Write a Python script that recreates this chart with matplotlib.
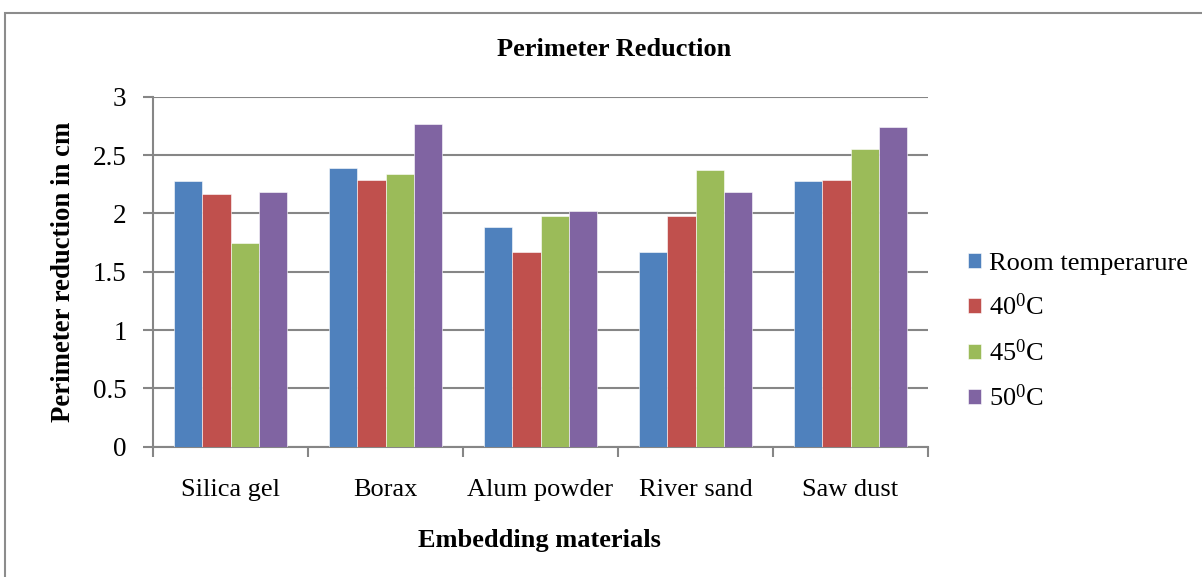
import matplotlib
matplotlib.use("Agg")
import matplotlib.pyplot as plt
from matplotlib.patches import Rectangle
import numpy as np

plt.rcParams['font.family'] = ['Liberation Serif', 'DejaVu Serif']
plt.rcParams['mathtext.fontset'] = 'custom'
plt.rcParams['mathtext.rm'] = 'Liberation Serif'
plt.rcParams['mathtext.it'] = 'Liberation Serif:italic'
plt.rcParams['mathtext.bf'] = 'Liberation Serif:bold'

materials = ["Silica gel", "Borax", "Alum powder", "River sand", "Saw dust"]
series_names = ["Room temperarure", "40$^0$C", "45$^0$C", "50$^0$C"]
room_temp = [2.28, 2.39, 1.88, 1.67, 2.28]
temp_40 = [2.17, 2.29, 1.67, 1.98, 2.29]
temp_45 = [1.75, 2.34, 1.98, 2.37, 2.55]
temp_50 = [2.18, 2.77, 2.02, 2.18, 2.74]
y_ticks = [0, 0.5, 1, 1.5, 2, 2.5, 3]
y_tick_labels = ["0", "0.5", "1", "1.5", "2", "2.5", "3"]

colors = ["#4F81BD", "#C0504D", "#9BBB59", "#8064A2"]
series = [room_temp, temp_40, temp_45, temp_50]

W, H = 1202, 577
fig = plt.figure(figsize=(W / 100, H / 100), dpi=100)
ax = fig.add_axes([153 / W, 1 - 446.7 / H, (928 - 153) / W, (446.7 - 96.7) / H])

n = len(series)
bar_w = 1 / (n + 1.5)
centers = np.arange(len(materials)) + 0.5
for k, (vals, col, name) in enumerate(zip(series, colors, series_names)):
    ax.bar(centers + (k - (n - 1) / 2) * bar_w, vals, width=bar_w, color=col,
           edgecolor="white", linewidth=0.4, label=name, zorder=3)

grid_col = "#868686"
ax.set_xlim(0, len(materials))
ax.set_ylim(0, 3)
ax.set_yticks(y_ticks)
ax.set_yticklabels(y_tick_labels)
ax.yaxis.grid(True, color=grid_col, linewidth=1.5, zorder=0)
ax.set_xticks(np.arange(len(materials) + 1))
ax.set_xticklabels([])
ax.set_xticks(centers, minor=True)
ax.set_xticklabels(materials, minor=True)
ax.tick_params(axis="x", which="minor", length=0, pad=23, labelsize=19)
ax.tick_params(axis="x", which="major", length=7, width=1.5, color=grid_col, direction="out")
ax.tick_params(axis="y", length=7, width=1.5, color=grid_col, pad=12, labelsize=19.5)
for s in ["top", "right"]:
    ax.spines[s].set_visible(False)
for s in ["left", "bottom"]:
    ax.spines[s].set_color(grid_col)
    ax.spines[s].set_linewidth(1.5)

fig.text(614 / W, 1 - 50 / H, "Perimeter Reduction", ha="center", va="center",
         fontsize=19, fontweight="bold")
fig.text(539 / W, 1 - 540 / H, "Embedding materials", ha="center", va="center",
         fontsize=19, fontweight="bold")
fig.text(63.5 / W, 1 - 272 / H, "Perimeter reduction in cm", ha="center", va="center",
         rotation=90, fontsize=19.3, fontweight="bold")

leg = ax.legend(loc="center left", bbox_to_anchor=(957 / W, 1 - 332 / H),
                bbox_transform=fig.transFigure, frameon=False, fontsize=19,
                handlelength=0.5, handleheight=0.5, handletextpad=0.3,
                labelspacing=0.72, borderaxespad=0)

fig.patches.append(Rectangle((5 / W, -0.1), 2, 1.1 - 13 / H, transform=fig.transFigure,
                             fill=False, edgecolor="#8c8c8c", linewidth=1.5))

fig.savefig("out.png", dpi=100)
